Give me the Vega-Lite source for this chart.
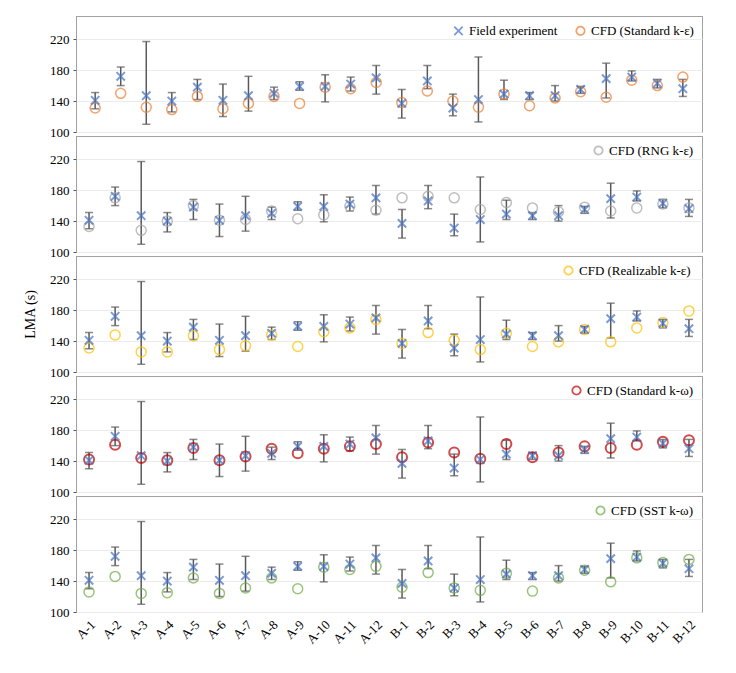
{
  "$schema": "https://vega.github.io/schema/vega-lite/v6.json",
  "padding": {"left": 23, "top": 15, "right": 5, "bottom": 5},
  "spacing": 4,
  "bounds": "flush",
  "data": {"values": [
    {"cat":"A-1","f":141,"lo":130,"hi":151,"ske":131,"rng":133,"rke":131,"skw":142,"sst":126},
    {"cat":"A-2","f":172,"lo":160,"hi":184,"ske":150,"rng":170,"rke":148,"skw":161,"sst":146},
    {"cat":"A-3","f":147,"lo":110,"hi":217,"ske":132,"rng":128,"rke":126,"skw":144,"sst":124},
    {"cat":"A-4","f":140,"lo":126,"hi":151,"ske":129,"rng":140,"rke":126,"skw":141,"sst":125},
    {"cat":"A-5","f":158,"lo":142,"hi":168,"ske":146,"rng":160,"rke":147,"skw":157,"sst":144},
    {"cat":"A-6","f":141,"lo":120,"hi":162,"ske":130,"rng":141,"rke":129,"skw":141,"sst":124},
    {"cat":"A-7","f":147,"lo":127,"hi":172,"ske":137,"rng":142,"rke":134,"skw":146,"sst":131},
    {"cat":"A-8","f":150,"lo":142,"hi":158,"ske":146,"rng":153,"rke":148,"skw":156,"sst":144},
    {"cat":"A-9","f":159,"lo":154,"hi":165,"ske":137,"rng":143,"rke":133,"skw":150,"sst":130},
    {"cat":"A-10","f":159,"lo":139,"hi":174,"ske":158,"rng":148,"rke":152,"skw":156,"sst":158},
    {"cat":"A-11","f":162,"lo":153,"hi":171,"ske":156,"rng":159,"rke":157,"skw":159,"sst":155},
    {"cat":"A-12","f":170,"lo":149,"hi":186,"ske":164,"rng":154,"rke":168,"skw":162,"sst":159},
    {"cat":"B-1","f":137,"lo":118,"hi":155,"ske":138,"rng":170,"rke":137,"skw":145,"sst":132},
    {"cat":"B-2","f":166,"lo":156,"hi":186,"ske":153,"rng":172,"rke":151,"skw":164,"sst":151},
    {"cat":"B-3","f":131,"lo":121,"hi":149,"ske":140,"rng":170,"rke":141,"skw":151,"sst":131},
    {"cat":"B-4","f":142,"lo":113,"hi":197,"ske":132,"rng":155,"rke":129,"skw":143,"sst":128},
    {"cat":"B-5","f":149,"lo":142,"hi":167,"ske":149,"rng":164,"rke":150,"skw":162,"sst":150},
    {"cat":"B-6","f":147,"lo":142,"hi":151,"ske":134,"rng":157,"rke":133,"skw":145,"sst":127},
    {"cat":"B-7","f":147,"lo":140,"hi":160,"ske":144,"rng":152,"rke":139,"skw":151,"sst":144},
    {"cat":"B-8","f":155,"lo":150,"hi":159,"ske":152,"rng":158,"rke":155,"skw":159,"sst":154},
    {"cat":"B-9","f":169,"lo":144,"hi":189,"ske":145,"rng":153,"rke":139,"skw":157,"sst":139},
    {"cat":"B-10","f":171,"lo":166,"hi":179,"ske":167,"rng":157,"rke":157,"skw":161,"sst":170},
    {"cat":"B-11","f":163,"lo":157,"hi":168,"ske":160,"rng":162,"rke":164,"skw":165,"sst":164},
    {"cat":"B-12","f":156,"lo":146,"hi":168,"ske":171,"rng":157,"rke":179,"skw":167,"sst":168}
  ]},
  "resolve": {
    "scale": {"color": "independent", "shape": "independent", "y": "independent"},
    "legend": {"color": "independent", "shape": "independent"}
  },
  "vconcat": [
    {
      "width": 626, "height": 116,
      "layer": [
        {"mark": {"type": "rule", "color": "#595959", "strokeWidth": 1.5},
         "encoding": {"x": {"field": "cat", "type": "nominal", "sort": null, "scale": {"padding": 0.5}, "axis": null},
                      "y": {"field": "lo", "type": "quantitative", "scale": {"domain": [100, 250], "nice": false}, "axis": {"values": [100, 140, 180, 220], "tickCount": 10, "title": null, "grid": true}},
                      "y2": {"field": "hi"}}},
        {"mark": {"type": "tick", "color": "#595959", "thickness": 1.5, "size": 8},
         "encoding": {"x": {"field": "cat", "type": "nominal", "sort": null}, "y": {"field": "lo", "type": "quantitative"}}},
        {"mark": {"type": "tick", "color": "#595959", "thickness": 1.5, "size": 8},
         "encoding": {"x": {"field": "cat", "type": "nominal", "sort": null}, "y": {"field": "hi", "type": "quantitative"}}},
        {"mark": {"type": "point", "filled": false, "size": 100, "strokeWidth": 1.5},
         "encoding": {"x": {"field": "cat", "type": "nominal", "sort": null}, "y": {"field": "ske", "type": "quantitative"},
                      "color": {"datum": "CFD (Standard k-ε)", "scale": {"domain": ["Field experiment", "CFD (Standard k-ε)"], "range": ["#4472C4", "#ED7D31"]}, "legend": {"title": null}},
                      "shape": {"datum": "CFD (Standard k-ε)", "scale": {"domain": ["Field experiment", "CFD (Standard k-ε)"], "range": ["M-1,-1L1,1M-1,1L1,-1", "circle"]}, "legend": {"title": null}}}},
        {"mark": {"type": "point", "filled": false, "size": 70, "strokeWidth": 2},
         "encoding": {"x": {"field": "cat", "type": "nominal", "sort": null}, "y": {"field": "f", "type": "quantitative"},
                      "color": {"datum": "Field experiment"},
                      "shape": {"datum": "Field experiment"}}}
      ]
    },
    {
      "width": 626, "height": 116,
      "layer": [
        {"mark": {"type": "rule", "color": "#595959", "strokeWidth": 1.5},
         "encoding": {"x": {"field": "cat", "type": "nominal", "sort": null, "axis": null},
                      "y": {"field": "lo", "type": "quantitative", "scale": {"domain": [100, 250], "nice": false}, "axis": {"values": [100, 140, 180, 220], "tickCount": 10, "title": null, "grid": true}},
                      "y2": {"field": "hi"}}},
        {"mark": {"type": "tick", "color": "#595959", "thickness": 1.5, "size": 8},
         "encoding": {"x": {"field": "cat", "type": "nominal", "sort": null}, "y": {"field": "lo", "type": "quantitative"}}},
        {"mark": {"type": "tick", "color": "#595959", "thickness": 1.5, "size": 8},
         "encoding": {"x": {"field": "cat", "type": "nominal", "sort": null}, "y": {"field": "hi", "type": "quantitative"}}},
        {"mark": {"type": "point", "filled": false, "size": 100, "strokeWidth": 1.5},
         "encoding": {"x": {"field": "cat", "type": "nominal", "sort": null}, "y": {"field": "rng", "type": "quantitative"},
                      "color": {"datum": "CFD (RNG k-ε)", "scale": {"domain": ["CFD (RNG k-ε)"], "range": ["#A5A5A5"]}, "legend": {"title": null}},
                      "shape": {"datum": "CFD (RNG k-ε)", "scale": {"domain": ["CFD (RNG k-ε)"], "range": ["circle"]}, "legend": {"title": null}}}},
        {"mark": {"type": "point", "filled": false, "size": 70, "strokeWidth": 2, "shape": "M-1,-1L1,1M-1,1L1,-1", "color": "#4472C4"},
         "encoding": {"x": {"field": "cat", "type": "nominal", "sort": null}, "y": {"field": "f", "type": "quantitative"}}}
      ]
    },
    {
      "width": 626, "height": 116,
      "layer": [
        {"mark": {"type": "rule", "color": "#595959", "strokeWidth": 1.5},
         "encoding": {"x": {"field": "cat", "type": "nominal", "sort": null, "axis": null},
                      "y": {"field": "lo", "type": "quantitative", "scale": {"domain": [100, 250], "nice": false}, "axis": {"values": [100, 140, 180, 220], "tickCount": 10, "title": "LMA (s)", "grid": true}},
                      "y2": {"field": "hi"}}},
        {"mark": {"type": "tick", "color": "#595959", "thickness": 1.5, "size": 8},
         "encoding": {"x": {"field": "cat", "type": "nominal", "sort": null}, "y": {"field": "lo", "type": "quantitative"}}},
        {"mark": {"type": "tick", "color": "#595959", "thickness": 1.5, "size": 8},
         "encoding": {"x": {"field": "cat", "type": "nominal", "sort": null}, "y": {"field": "hi", "type": "quantitative"}}},
        {"mark": {"type": "point", "filled": false, "size": 100, "strokeWidth": 1.5},
         "encoding": {"x": {"field": "cat", "type": "nominal", "sort": null}, "y": {"field": "rke", "type": "quantitative"},
                      "color": {"datum": "CFD (Realizable  k-ε)", "scale": {"domain": ["CFD (Realizable  k-ε)"], "range": ["#FFC000"]}, "legend": {"title": null}},
                      "shape": {"datum": "CFD (Realizable  k-ε)", "scale": {"domain": ["CFD (Realizable  k-ε)"], "range": ["circle"]}, "legend": {"title": null}}}},
        {"mark": {"type": "point", "filled": false, "size": 70, "strokeWidth": 2, "shape": "M-1,-1L1,1M-1,1L1,-1", "color": "#4472C4"},
         "encoding": {"x": {"field": "cat", "type": "nominal", "sort": null}, "y": {"field": "f", "type": "quantitative"}}}
      ]
    },
    {
      "width": 626, "height": 116,
      "layer": [
        {"mark": {"type": "rule", "color": "#595959", "strokeWidth": 1.5},
         "encoding": {"x": {"field": "cat", "type": "nominal", "sort": null, "axis": null},
                      "y": {"field": "lo", "type": "quantitative", "scale": {"domain": [100, 250], "nice": false}, "axis": {"values": [100, 140, 180, 220], "tickCount": 10, "title": null, "grid": true}},
                      "y2": {"field": "hi"}}},
        {"mark": {"type": "tick", "color": "#595959", "thickness": 1.5, "size": 8},
         "encoding": {"x": {"field": "cat", "type": "nominal", "sort": null}, "y": {"field": "lo", "type": "quantitative"}}},
        {"mark": {"type": "tick", "color": "#595959", "thickness": 1.5, "size": 8},
         "encoding": {"x": {"field": "cat", "type": "nominal", "sort": null}, "y": {"field": "hi", "type": "quantitative"}}},
        {"mark": {"type": "point", "filled": false, "size": 100, "strokeWidth": 2},
         "encoding": {"x": {"field": "cat", "type": "nominal", "sort": null}, "y": {"field": "skw", "type": "quantitative"},
                      "color": {"datum": "CFD (Standard k-ω)", "scale": {"domain": ["CFD (Standard k-ω)"], "range": ["#C00000"]}, "legend": {"title": null}},
                      "shape": {"datum": "CFD (Standard k-ω)", "scale": {"domain": ["CFD (Standard k-ω)"], "range": ["circle"]}, "legend": {"title": null}}}},
        {"mark": {"type": "point", "filled": false, "size": 70, "strokeWidth": 2, "shape": "M-1,-1L1,1M-1,1L1,-1", "color": "#4472C4"},
         "encoding": {"x": {"field": "cat", "type": "nominal", "sort": null}, "y": {"field": "f", "type": "quantitative"}}}
      ]
    },
    {
      "width": 626, "height": 116,
      "layer": [
        {"mark": {"type": "rule", "color": "#595959", "strokeWidth": 1.5},
         "encoding": {"x": {"field": "cat", "type": "nominal", "sort": null, "axis": {"title": null, "labelAngle": -45, "ticks": false, "labelPadding": 6}},
                      "y": {"field": "lo", "type": "quantitative", "scale": {"domain": [100, 250], "nice": false}, "axis": {"values": [100, 140, 180, 220], "tickCount": 10, "title": null, "grid": true}},
                      "y2": {"field": "hi"}}},
        {"mark": {"type": "tick", "color": "#595959", "thickness": 1.5, "size": 8},
         "encoding": {"x": {"field": "cat", "type": "nominal", "sort": null}, "y": {"field": "lo", "type": "quantitative"}}},
        {"mark": {"type": "tick", "color": "#595959", "thickness": 1.5, "size": 8},
         "encoding": {"x": {"field": "cat", "type": "nominal", "sort": null}, "y": {"field": "hi", "type": "quantitative"}}},
        {"mark": {"type": "point", "filled": false, "size": 100, "strokeWidth": 1.5},
         "encoding": {"x": {"field": "cat", "type": "nominal", "sort": null}, "y": {"field": "sst", "type": "quantitative"},
                      "color": {"datum": "CFD (SST k-ω)", "scale": {"domain": ["CFD (SST k-ω)"], "range": ["#70AD47"]}, "legend": {"title": null}},
                      "shape": {"datum": "CFD (SST k-ω)", "scale": {"domain": ["CFD (SST k-ω)"], "range": ["circle"]}, "legend": {"title": null}}}},
        {"mark": {"type": "point", "filled": false, "size": 70, "strokeWidth": 2, "shape": "M-1,-1L1,1M-1,1L1,-1", "color": "#4472C4"},
         "encoding": {"x": {"field": "cat", "type": "nominal", "sort": null}, "y": {"field": "f", "type": "quantitative"}}}
      ]
    }
  ],
  "config": {
    "font": "Liberation Serif",
    "view": {"stroke": "#444", "strokeDash": [1, 1], "strokeWidth": 1},
    "axis": {"labelFont": "Liberation Serif", "labelFontSize": 13, "labelColor": "#000", "titleFont": "Liberation Serif", "titleFontSize": 14, "titleFontWeight": "normal", "titleColor": "#000", "gridColor": "#ececec", "domain": false, "tickColor": "#555", "tickSize": 3, "labelPadding": 4, "titlePadding": 12, "labelOverlap": false},
    "legend": {"orient": "top-right", "direction": "horizontal", "offset": 6, "labelFont": "Liberation Serif", "labelFontSize": 13, "labelColor": "#000", "symbolSize": 70, "symbolStrokeWidth": 1.8, "columnPadding": 14, "padding": 2}
  }
}
